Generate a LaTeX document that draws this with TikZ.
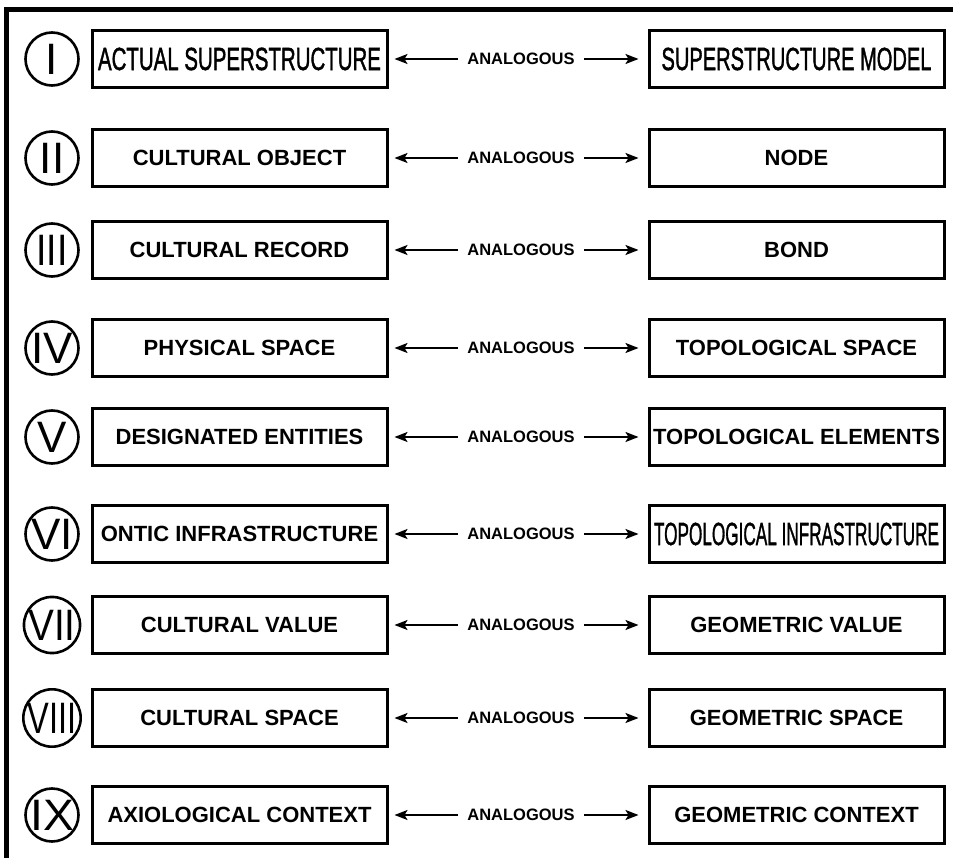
\documentclass[tikz,border=0pt]{standalone}
\usepackage{fontspec}
\setmainfont{Liberation Sans}
\newfontfamily\condfont[FakeBold=1.6]{Liberation Sans}
\usetikzlibrary{arrows.meta}
% narrow lettering squeezed to a given width
\newcommand{\cond}[2]{\resizebox{#1}{\height}{\condfont\mdseries\fontsize{32}{32}\selectfont #2}}
\tikzset{
  frameline/.style={line width=5pt, line cap=butt},
  numeral/.style={circle, draw, line width=2.6pt, minimum size=53pt, inner sep=0pt,
                  font=\fontsize{44}{44}\selectfont},
  termbox/.style={draw, line width=3pt, minimum width=295pt, minimum height=57pt,
                  inner sep=0pt, font=\bfseries\fontsize{22}{22}\selectfont},
  linklabel/.style={inner xsep=9pt, inner ysep=2pt, font=\bfseries\fontsize{16.5}{16.5}\selectfont},
  analogy/.style={-{Stealth[length=13pt,width=10pt,inset=3pt]}, line width=1.8pt}
}
\begin{document}
\begin{tikzpicture}[x=1pt,y=-1pt]
  \useasboundingbox (0,0) rectangle (953,858);
  % outer frame (open to the right and bottom)
  \draw[frameline] (953,10) -- (6.5,10) -- (6.5,858);
  \foreach \i/\y/\num/\ns/\lt/\rt in {
    1/59/I/1/{\cond{283pt}{ACTUAL SUPERSTRUCTURE}}/{\cond{270pt}{SUPERSTRUCTURE MODEL}},
    2/158/II/1/{CULTURAL OBJECT}/{NODE},
    3/250/III/0.85/{CULTURAL RECORD}/{BOND},
    4/348/IV/1/{PHYSICAL SPACE}/{TOPOLOGICAL SPACE},
    5/437/V/1/{DESIGNATED ENTITIES}/{TOPOLOGICAL ELEMENTS},
    6/534/VI/1/{ONTIC INFRASTRUCTURE}/{\cond{285pt}{TOPOLOGICAL INFRASTRUCTURE}},
    7/625/VII/0.88/{CULTURAL VALUE}/{GEOMETRIC VALUE},
    8/718/VIII/0.74/{CULTURAL SPACE}/{GEOMETRIC SPACE},
    9/815/IX/1.05/{AXIOLOGICAL CONTEXT}/{GEOMETRIC CONTEXT}}
  {
    \node[numeral] (n\i) at (52,\y) {\scalebox{\ns}[1]{\num}};
    \node[termbox] (l\i) at (239.5,\y) {\lt};
    \node[termbox] (r\i) at (796.5,\y) {\rt};
    \node[linklabel] (a\i) at (521,\y) {ANALOGOUS};
    \draw[analogy, shorten >=6pt] (a\i) -- (l\i);
    \draw[analogy, shorten >=9pt] (a\i) -- (r\i);
  }
\end{tikzpicture}
\end{document}
